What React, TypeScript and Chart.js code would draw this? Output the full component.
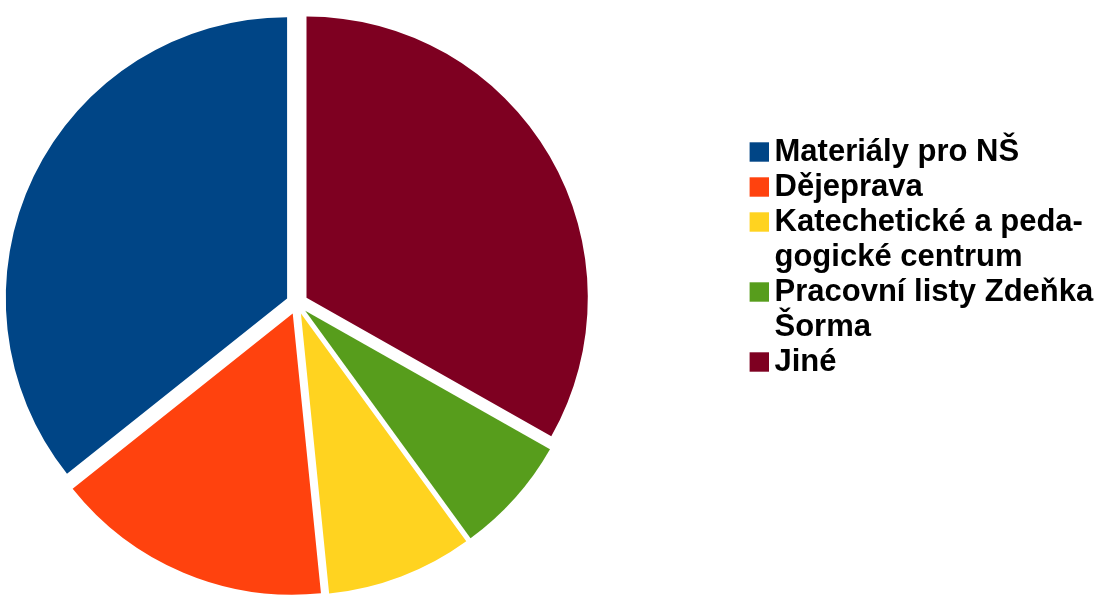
import React, { useEffect, useRef } from 'react';
import { Chart, PieController, ArcElement, Legend } from 'chart.js';

Chart.register(PieController, ArcElement, Legend);

// Legend order (LibreOffice draws the slices counter-clockwise from 12 o'clock)
const categories: string[][] = [
  ['Materiály pro NŠ'],
  ['Dějeprava'],
  ['Katechetické a peda-', 'gogické centrum'],
  ['Pracovní listy Zdeňka', 'Šorma'],
  ['Jiné'],
];
const shares: number[] = [35.7, 15.9, 8.4, 6.8, 33.2];
const sliceColors: string[] = ['#004586', '#ff420e', '#ffd320', '#579d1c', '#7e0021'];

const EXPLODE = 11;
const LEGEND_FONT = 31;
const SWATCH = 19.4;
const SWATCH_GAP = 5.5;

// Pull every slice outward along its own bisector (exploded pie)
const explodePlugin = {
  id: 'explodeSlices',
  afterDatasetsUpdate(chart: any) {
    const meta = chart.getDatasetMeta(0);
    meta.data.forEach((arc: any) => {
      const mid = (arc.startAngle + arc.endAngle) / 2;
      arc.x += Math.cos(mid) * EXPLODE;
      arc.y += Math.sin(mid) * EXPLODE;
    });
  },
};

// Square legend swatches placed close to the text, positioned from the legend's own layout
const legendSwatchPlugin = {
  id: 'legendSwatches',
  afterDraw(chart: any) {
    const legend = chart.legend;
    if (!legend || !legend.legendHitBoxes || !legend.legendItems) return;
    const ctx = chart.ctx;
    legend.legendItems.forEach((item: any, i: number) => {
      const hb = legend.legendHitBoxes[i];
      if (!hb) return;
      const textX = hb.left + LEGEND_FONT / 2;
      const cy = hb.top + LEGEND_FONT / 2;
      ctx.save();
      ctx.fillStyle = item.fillStyle;
      ctx.fillRect(textX - SWATCH_GAP - SWATCH, cy - SWATCH / 2, SWATCH, SWATCH);
      ctx.restore();
    });
  },
};

export default function App() {
  const ref = useRef<HTMLCanvasElement>(null);
  useEffect(() => {
    if (!ref.current) return;
    const chart = new Chart(ref.current, {
      type: 'pie',
      data: {
        labels: [...categories].reverse() as any,
        datasets: [
          {
            data: [...shares].reverse(),
            backgroundColor: [...sliceColors].reverse(),
            borderWidth: 0,
            hoverOffset: 0,
          },
        ],
      },
      options: {
        responsive: true,
        maintainAspectRatio: false,
        animation: false,
        events: [],
        layout: { padding: { top: 22, bottom: 15.4, left: 0, right: 1.5 } },
        plugins: {
          tooltip: { enabled: false },
          legend: {
            position: 'right',
            align: 'start',
            reverse: true,
            maxWidth: 338,
            title: {
              display: true,
              text: '',
              font: { size: 10, lineHeight: 1 },
              padding: { top: 104.5, bottom: 0 },
            },
            labels: {
              boxWidth: 0,
              padding: 0,
              color: '#000000',
              font: {
                family: "'Liberation Sans', Arial, sans-serif",
                size: LEGEND_FONT,
                weight: 'bold',
                lineHeight: 35 / LEGEND_FONT,
              },
            },
          },
        },
      } as any,
      plugins: [explodePlugin, legendSwatchPlugin],
    });
    return () => chart.destroy();
  }, []);

  return (
    <div
      style={{
        position: 'fixed',
        left: 0,
        top: 0,
        width: 1098,
        height: 600,
        overflow: 'hidden',
        background: '#ffffff',
      }}
    >
      <div style={{ position: 'absolute', left: -165.5, top: 0, width: 1263.5, height: 600 }}>
        <canvas ref={ref} />
      </div>
    </div>
  );
}
